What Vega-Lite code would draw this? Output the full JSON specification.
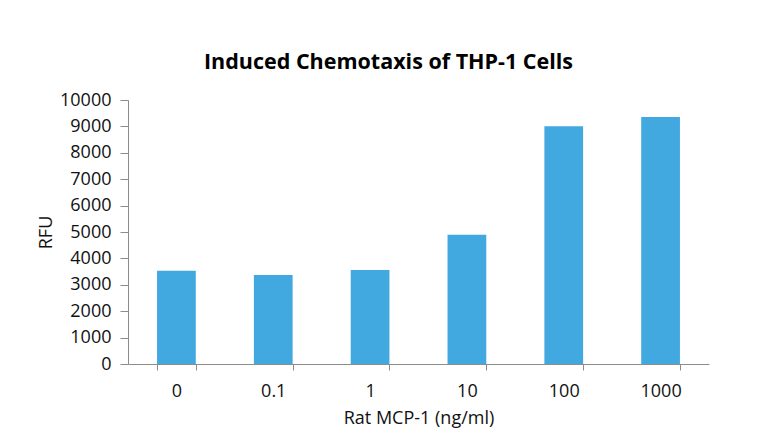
{
  "$schema": "https://vega.github.io/schema/vega-lite/v6.json",
  "width": 581,
  "height": 264,
  "autosize": {"type": "none"},
  "padding": {"left": 128, "top": 100, "right": 50, "bottom": 81},
  "background": "white",
  "title": {
    "text": "Induced Chemotaxis of THP-1 Cells",
    "font": "Open Sans",
    "fontSize": 21.5,
    "fontWeight": "bold",
    "color": "#000000",
    "anchor": "middle",
    "dx": -30,
    "offset": 18
  },
  "data": {
    "values": [
      {"conc": "0", "rfu": 3530},
      {"conc": "0.1", "rfu": 3370},
      {"conc": "1", "rfu": 3560},
      {"conc": "10", "rfu": 4900},
      {"conc": "100", "rfu": 9010},
      {"conc": "1000", "rfu": 9360}
    ]
  },
  "mark": {"type": "bar", "color": "#41A8E0"},
  "encoding": {
    "x": {
      "field": "conc",
      "type": "ordinal",
      "sort": null,
      "scale": {"paddingInner": 0.6, "paddingOuter": 0.3},
      "axis": {
        "title": "Rat MCP-1 (ng/ml)",
        "labelAngle": 0,
        "tickBand": "extent",
        "tickSize": 6,
        "labelPadding": 12,
        "titlePadding": 9
      }
    },
    "y": {
      "field": "rfu",
      "type": "quantitative",
      "scale": {"domain": [0, 10000], "nice": false},
      "axis": {
        "title": "RFU",
        "values": [0, 1000, 2000, 3000, 4000, 5000, 6000, 7000, 8000, 9000, 10000],
        "format": "d",
        "grid": false,
        "tickSize": 8,
        "labelPadding": 9,
        "titlePadding": 4
      }
    }
  },
  "config": {
    "view": {"stroke": null},
    "axis": {
      "domainColor": "#8c8c8c",
      "tickColor": "#8c8c8c",
      "labelFont": "Open Sans",
      "labelFontSize": 18,
      "labelColor": "#111111",
      "titleFont": "Open Sans",
      "titleFontSize": 18,
      "titleFontWeight": "normal",
      "titleColor": "#111111"
    }
  }
}
